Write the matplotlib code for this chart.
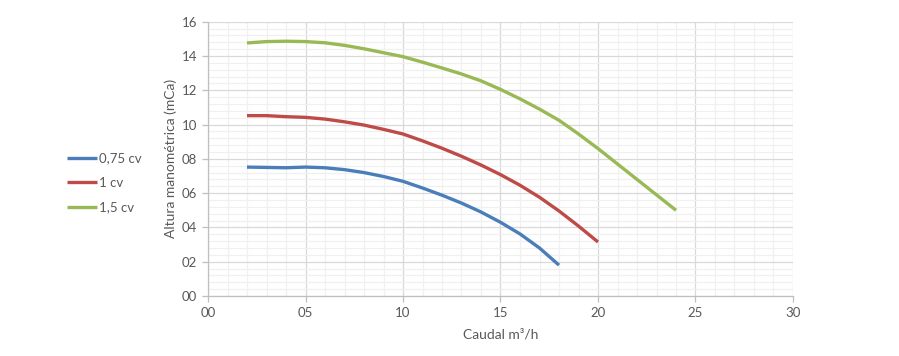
import matplotlib
matplotlib.use("Agg")
import matplotlib.pyplot as plt
from matplotlib.ticker import MultipleLocator, FuncFormatter

plt.rcParams['font.family'] = ['Lato', 'DejaVu Sans']

# data
caudal_075 = [2, 3, 4, 5, 6, 7, 8, 9, 10, 11, 12, 13, 14, 15, 16, 17, 18]
altura_075 = [7.52, 7.5, 7.48, 7.52, 7.48, 7.37, 7.2, 6.97, 6.69, 6.3, 5.88, 5.42, 4.9, 4.3, 3.62, 2.8, 1.8]

caudal_1 = [2, 3, 4, 5, 6, 7, 8, 9, 10, 11, 12, 13, 14, 15, 16, 17, 18, 19, 20]
altura_1 = [10.52, 10.52, 10.46, 10.42, 10.32, 10.16, 9.97, 9.72, 9.45, 9.05, 8.62, 8.15, 7.64, 7.08, 6.46, 5.76, 4.96, 4.08, 3.15]

caudal_15 = [2, 3, 4, 5, 6, 7, 8, 9, 10, 11, 12, 13, 14, 15, 16, 17, 18, 19, 20, 21, 22, 23, 24]
altura_15 = [14.76, 14.84, 14.86, 14.84, 14.77, 14.62, 14.42, 14.19, 13.96, 13.64, 13.3, 12.95, 12.55, 12.05, 11.5, 10.9, 10.25, 9.45, 8.6, 7.7, 6.8, 5.9, 5.0]

labels = ['0,75 cv', '1 cv', '1,5 cv']
colors = ['#4A7EBB', '#BE4B48', '#98B954']

fig = plt.figure(figsize=(8.99, 3.56), dpi=100)
ax = fig.add_axes([208/899, 1-296/356, 585/899, 274.3/356])

for xs, ys, lab, c in zip([caudal_075, caudal_1, caudal_15],
                          [altura_075, altura_1, altura_15], labels, colors):
    ax.plot(xs, ys, color=c, lw=2.4, label=lab, solid_capstyle='butt',
            solid_joinstyle='round', zorder=3)

ax.set_xlim(0, 30)
ax.set_ylim(0, 16)
ax.xaxis.set_major_locator(MultipleLocator(5))
ax.xaxis.set_minor_locator(MultipleLocator(1))
ax.yaxis.set_major_locator(MultipleLocator(2))
ax.yaxis.set_minor_locator(MultipleLocator(0.4))
fmt = FuncFormatter(lambda v, p: f"{v:02.0f}")
ax.xaxis.set_major_formatter(fmt)
ax.yaxis.set_major_formatter(fmt)

ax.grid(which='major', color='#D9D9D9', lw=0.9, zorder=1)
ax.grid(which='minor', color='#F0F0F0', lw=0.9, zorder=0)
ax.set_axisbelow(True)

for s in ['top', 'right']:
    ax.spines[s].set_visible(False)
for s in ['left', 'bottom']:
    ax.spines[s].set_color('#BFBFBF')
    ax.spines[s].set_linewidth(0.9)

ax.tick_params(which='major', length=4, width=0.9, color='#BFBFBF',
               labelcolor='#595959', labelsize=9.5, pad=4)
ax.tick_params(which='minor', length=0)

ax.set_xlabel("Caudal m³/h", color='#595959', fontsize=10, labelpad=7)
ax.set_ylabel("Altura manométrica (mCa)", color='#595959', fontsize=10, labelpad=3)

fig.legend(loc='center left', bbox_to_anchor=(67/899, 1-183/356), frameon=False,
           fontsize=9.5, handlelength=2.3, handletextpad=0.15, labelspacing=0.95,
           borderpad=0, borderaxespad=0, labelcolor='#595959')

fig.savefig("out.png", dpi=100)
